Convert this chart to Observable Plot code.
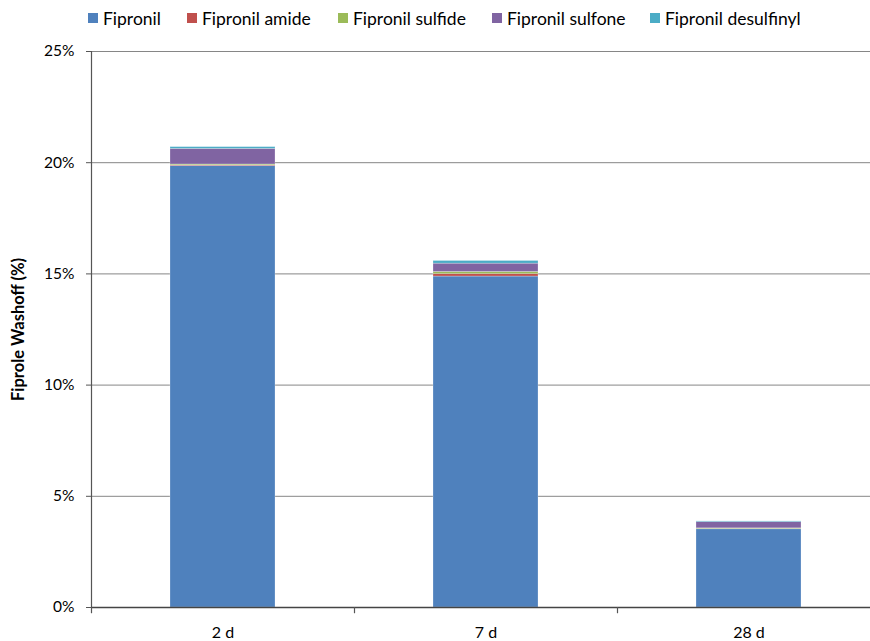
<!DOCTYPE html>
<html>
<head>
<meta charset="utf-8">
<script src="https://cdn.jsdelivr.net/npm/d3@7"></script>
<script src="https://cdn.jsdelivr.net/npm/@observablehq/plot@0.6"></script>
<style>
  html, body { margin: 0; padding: 0; background: #fff; }
  #wrap { position: relative; width: 870px; height: 641px; overflow: hidden; font-family: Lato, "Open Sans", sans-serif; }
  #chart svg { max-width: none !important; width: 880px; height: 641px; }
  #legend { position: absolute; top: 7px; left: 0; width: 870px; height: 22px; font-size: 17.5px; color: #000; }
  .item { position: absolute; top: 0; height: 22px; display: flex; align-items: center; white-space: nowrap; }
  .sw { width: 10px; height: 10px; margin-right: 5px; }
</style>
</head>
<body>
<div id="wrap">
  <div id="chart"></div>
  <div id="legend"></div>
</div>
<script>
const categories = ["2 d", "7 d", "28 d"];
const seriesNames = ["Fipronil", "Fipronil amide", "Fipronil sulfide", "Fipronil sulfone", "Fipronil desulfinyl"];
const seriesColors = ["#4F81BD", "#C0504D", "#9BBB59", "#8064A2", "#4BACC6"];
const fipronil = [19.85, 14.88, 3.52];
const fipronilAmide = [0.03, 0.11, 0.01];
const fipronilSulfide = [0.04, 0.10, 0.03];
const fipronilSulfone = [0.70, 0.37, 0.28];
const fipronilDesulfinyl = [0.08, 0.12, 0.03];
const yTicks = [0, 5, 10, 15, 20, 25];
const legendLeft = [88, 187, 338, 492, 650];

const seriesValues = [fipronil, fipronilAmide, fipronilSulfide, fipronilSulfone, fipronilDesulfinyl];
const rows = [];
seriesNames.forEach((s, i) => {
  categories.forEach((c, j) => rows.push({ category: c, series: s, value: seriesValues[i][j] }));
});

const chart = Plot.plot({
  width: 880,
  height: 641,
  marginTop: 51,
  marginBottom: 34,
  marginLeft: 91,
  marginRight: 0,
  style: { fontFamily: "Lato, 'Open Sans', sans-serif", fontSize: "15.5px", color: "#000", background: "#fff", maxWidth: "none" },
  x: { domain: categories, paddingInner: 0.6, paddingOuter: 0.3, align: 0.5 },
  y: { domain: [0, 25] },
  color: { domain: seriesNames, range: seriesColors },
  marks: [
    Plot.gridY({ ticks: yTicks.filter(d => d > 0), stroke: "#868686", strokeOpacity: 1, strokeWidth: 1 }),
    Plot.barY(rows, { x: "category", y: "value", fill: "series", stroke: "#ffffff", strokeOpacity: 0.3, strokeWidth: 0.8 }),
    Plot.frame({ anchor: "left", stroke: "#555", strokeWidth: 1.2 }),
    Plot.ruleY([0], { stroke: "#444", strokeWidth: 1.5 }),
    Plot.ruleX(categories, { x: d => d, y1: 0, y2: -0.28, dx: -131.5, stroke: "#555", strokeWidth: 1.2 }),
    Plot.axisY({ ticks: yTicks, tickFormat: d => d + "%", tickSize: 5, tickPadding: 12, stroke: "#555", fontSize: 15.5, label: null }),
    Plot.axisX({ tickSize: 0, tickPadding: 19, fontSize: 16, label: null }),
    Plot.text(["Fiprole Washoff (%)"], { frameAnchor: "left", textAnchor: "middle", dx: -73, rotate: -90, fontWeight: "bold", fontSize: 16.5, text: d => d })
  ]
});
document.getElementById("chart").appendChild(chart);

const legend = document.getElementById("legend");
seriesNames.forEach((s, i) => {
  const it = document.createElement("div");
  it.className = "item";
  it.style.left = legendLeft[i] + "px";
  it.innerHTML = `<span class="sw" style="background:${seriesColors[i]}"></span><span>${s}</span>`;
  legend.appendChild(it);
});
</script>
</body>
</html>
